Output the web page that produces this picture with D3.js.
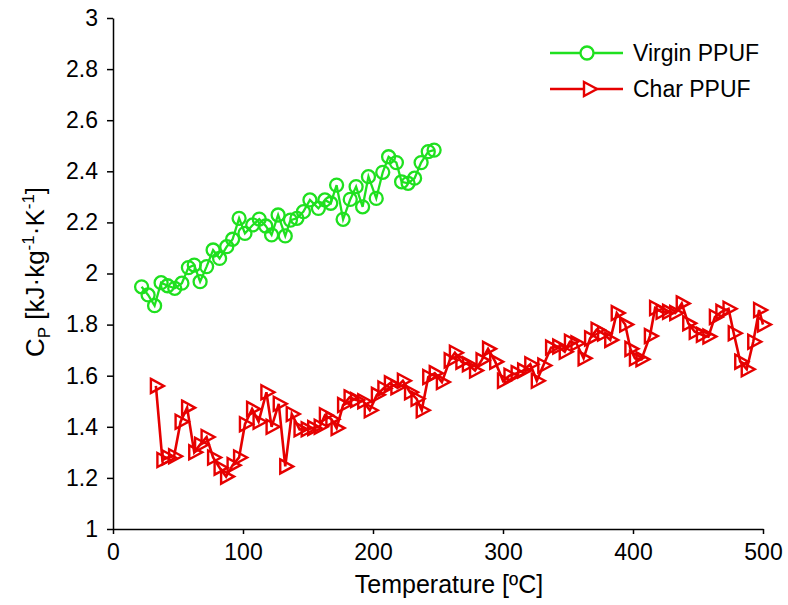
<!DOCTYPE html>
<html><head><meta charset="utf-8">
<script src="https://cdn.jsdelivr.net/npm/d3@7"></script>
<style>body{margin:0;background:#fff}svg{display:block}text{font-family:Arial,"Liberation Sans",sans-serif;fill:#000}</style>
</head><body>
<svg id="c" width="788" height="605"></svg>
<script>
const virginT = [22,27,32,37,42,47.5,53,58,62.5,67,72,77,82,87.5,92,97,101.5,107.5,112.5,117.5,122,127,132.5,136.5,141.5,146.5,151.5,158,163,167.5,172,177,182.5,187,192,196.5,202.5,207.5,212,218,222,227,232,237,242.5,247];
const virginCp = [1.948,1.916,1.874,1.964,1.952,1.942,1.962,2.023,2.033,1.968,2.027,2.092,2.059,2.105,2.134,2.216,2.157,2.19,2.213,2.186,2.151,2.229,2.147,2.209,2.216,2.242,2.288,2.255,2.288,2.275,2.346,2.212,2.29,2.34,2.261,2.379,2.294,2.396,2.457,2.434,2.359,2.353,2.373,2.434,2.477,2.483];
const charT = [33,38,42,47,52,57,62.5,67,72,77,82,87,92,97,101.5,107,112,118,122,127.5,132.5,137.5,143.5,149,154,159,163,168,172,177,182,187,192.5,197.5,203,208,213,218,223,228.5,233.5,237.5,242.5,247.5,253,259,263,268,273,278.5,283.5,288.5,294,300,305,310.5,315.5,321,326,331,337,342.5,347.5,351.5,356.5,362,367,372,377,382.5,387.5,394,398,401.5,406.5,413,417,422,427,432.5,437.5,442.5,447.5,453,458,463,468,473.5,477.5,482.5,487.5,492.5,497,500];
const charCp = [1.56,1.27,1.28,1.285,1.42,1.475,1.30,1.33,1.36,1.28,1.24,1.205,1.25,1.28,1.41,1.47,1.42,1.535,1.40,1.49,1.245,1.45,1.39,1.39,1.395,1.40,1.445,1.43,1.395,1.485,1.515,1.505,1.50,1.465,1.525,1.55,1.57,1.555,1.58,1.535,1.51,1.465,1.595,1.61,1.575,1.66,1.69,1.655,1.645,1.62,1.66,1.705,1.655,1.58,1.60,1.61,1.62,1.645,1.58,1.64,1.71,1.714,1.694,1.733,1.727,1.668,1.746,1.78,1.765,1.74,1.845,1.80,1.705,1.668,1.664,1.755,1.865,1.85,1.85,1.845,1.883,1.805,1.772,1.76,1.753,1.83,1.85,1.862,1.766,1.655,1.625,1.733,1.857,1.80];
const xTicks = [0,100,200,300,400,500];
const yTicks = [1,1.2,1.4,1.6,1.8,2,2.2,2.4,2.6,2.8,3];
const seriesNames = ["Virgin PPUF","Char PPUF"];

const green = "#1fe01f", red = "#e60000";
const svg = d3.select("#c");
const x = d3.scaleLinear().domain([0,500]).range([113,763]);
const y = d3.scaleLinear().domain([1,3]).range([529,18]);

const xAxis = svg.append("g").attr("transform","translate(0,529)")
  .call(d3.axisBottom(x).tickValues(xTicks).tickSize(5).tickSizeOuter(0).tickPadding(10).tickFormat(d3.format("d")));
const yAxis = svg.append("g").attr("transform","translate(113,0)")
  .call(d3.axisLeft(y).tickValues(yTicks).tickSize(6).tickSizeOuter(0).tickPadding(9).tickFormat(d=>String(+d.toFixed(1))));
[xAxis,yAxis].forEach(a=>{
  a.selectAll("path,line").attr("stroke","#000").attr("stroke-width",1.5);
  a.selectAll("text").attr("font-size",23).attr("font-family","Arial,'Liberation Sans',sans-serif").attr("fill","#000");
});

svg.append("text").attr("x",449).attr("y",593).attr("text-anchor","middle").attr("font-size",25).text("Temperature [ºC]");
const yt = svg.append("text").attr("transform","translate(44,272) rotate(-90)").attr("text-anchor","middle").attr("font-size",26);
yt.append("tspan").text("C");
yt.append("tspan").attr("font-size",17).attr("dy",6).text("P");
yt.append("tspan").attr("dy",-6).text(" [kJ·kg");
yt.append("tspan").attr("font-size",17).attr("dy",-10).text("-1");
yt.append("tspan").attr("dy",10).text("·K");
yt.append("tspan").attr("font-size",17).attr("dy",-10).text("-1");
yt.append("tspan").attr("dy",10).text("]");

const line = d3.line().x(d=>x(d[0])).y(d=>y(d[1]));
const vData = virginT.map((t,i)=>[t,virginCp[i]]);
const cData = charT.map((t,i)=>[t,charCp[i]]);
const triPath = "M-5,-7L8,0L-5,7Z";

svg.append("path").datum(cData).attr("d",line).attr("fill","none").attr("stroke",red).attr("stroke-width",2.6);
svg.append("g").selectAll("path").data(cData).join("path")
  .attr("d",triPath).attr("transform",d=>`translate(${x(d[0])},${y(d[1])})`)
  .attr("fill","none").attr("stroke",red).attr("stroke-width",2.4);

svg.append("path").datum(vData).attr("d",line).attr("fill","none").attr("stroke",green).attr("stroke-width",2.3);
svg.append("g").selectAll("circle").data(vData).join("circle")
  .attr("cx",d=>x(d[0])).attr("cy",d=>y(d[1])).attr("r",6.5)
  .attr("fill","none").attr("stroke",green).attr("stroke-width",2.3);

// legend
const lg = svg.append("g");
lg.append("line").attr("x1",550).attr("x2",623).attr("y1",53).attr("y2",53).attr("stroke",green).attr("stroke-width",2.3);
lg.append("circle").attr("cx",587).attr("cy",53).attr("r",6.5).attr("fill","#fff").attr("stroke",green).attr("stroke-width",2.3);
lg.append("text").attr("x",633).attr("y",61).attr("font-size",23).text(seriesNames[0]);
lg.append("line").attr("x1",550).attr("x2",623).attr("y1",89).attr("y2",89).attr("stroke",red).attr("stroke-width",2.6);
lg.append("path").attr("d",triPath).attr("transform","translate(589,89)").attr("fill","#fff").attr("stroke",red).attr("stroke-width",2.4);
lg.append("text").attr("x",633).attr("y",97).attr("font-size",23).text(seriesNames[1]);
</script>
</body></html>
